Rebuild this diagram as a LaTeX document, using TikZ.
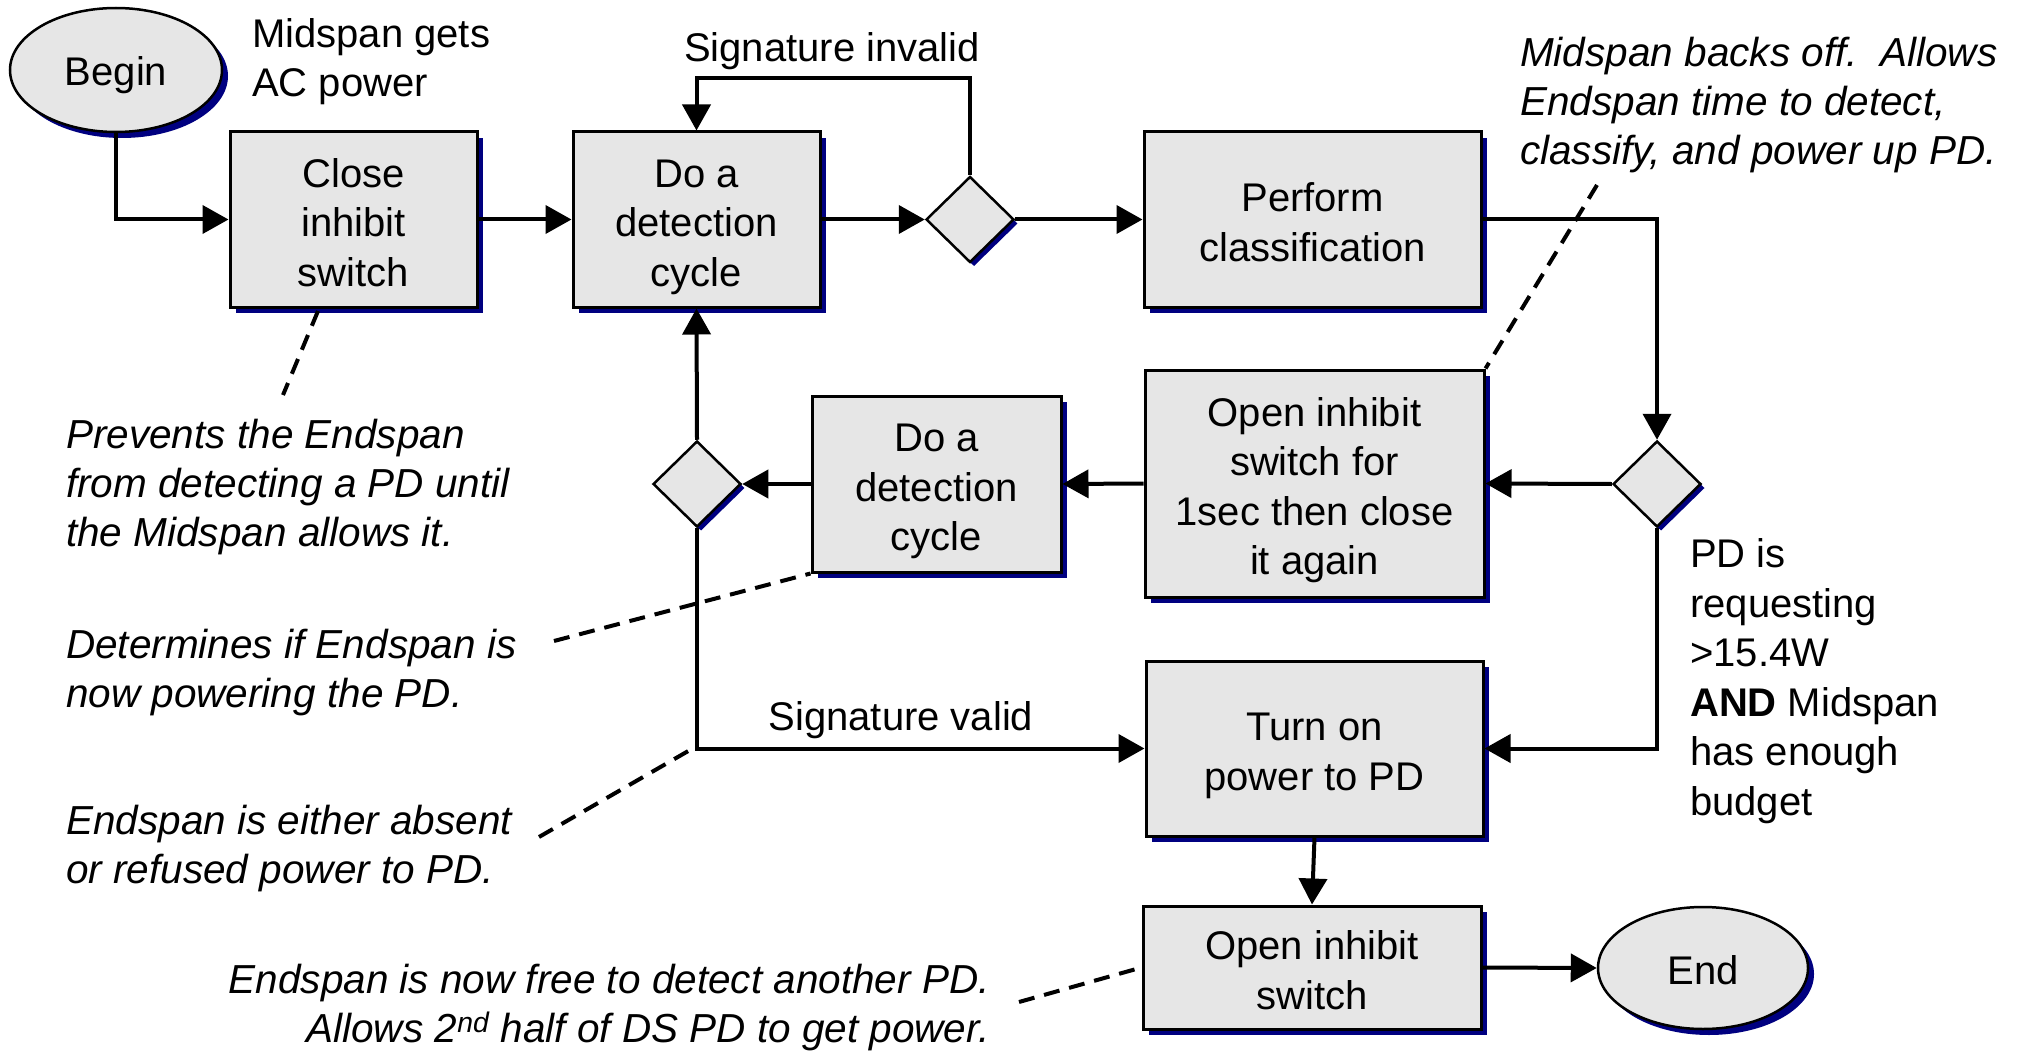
\documentclass[tikz,border=0pt]{standalone}
\usepackage{fontspec}
\setmainfont{Liberation Sans}
\usetikzlibrary{arrows.meta,shapes.geometric,shadows}
\definecolor{boxfill}{RGB}{230,230,230}
\definecolor{shadenavy}{RGB}{0,0,128}
\frenchspacing
\begin{document}
\begin{tikzpicture}[x=1pt,y=-1pt,
  every node/.style={font=\fontsize{40}{49.5}\selectfont},
  boxshadow/.style={general shadow={fill=shadenavy,draw=none,shadow xshift=6pt,shadow yshift=-6pt}},
  proc/.style={rectangle,draw=black,line width=3pt,fill=boxfill,inner sep=0pt,align=center,text depth=6pt,boxshadow},
  lines2/.style={text height=89.5pt},
  lines3/.style={text height=139pt},
  lines4/.style={text height=188.5pt},
  term/.style={ellipse,draw=black,line width=2.5pt,fill=boxfill,inner sep=0pt,text height=32pt,text depth=0pt,boxshadow},
  decision/.style={diamond,draw=black,line width=2.5pt,fill=boxfill,inner sep=0pt,
    minimum width=88pt,minimum height=86pt,general shadow={fill=shadenavy,draw=none,shadow xshift=4pt,shadow yshift=-4pt}},
  conn/.style={line width=4pt,-{Triangle[length=26pt,width=28pt]}},
  note/.style={line width=4pt,dash pattern=on 16pt off 10pt},
  label/.style={inner sep=0pt,align=left},
  remark/.style={inner sep=0pt,align=left,font=\fontsize{40.5}{49}\selectfont\itshape}]
\useasboundingbox (0,0) rectangle (2021,1051);

% terminals
\node[term,minimum width=212pt,minimum height=124pt] (begin) at (116,70) {Begin};
\node[term,minimum width=210pt,minimum height=122pt] (end) at (1703,968) {End};

% process boxes
\node[proc,lines3,minimum width=247pt,minimum height=175pt] (close) at (353.5,219.5) {Close\\inhibit\\switch};
\node[proc,lines3,minimum width=247pt,minimum height=175pt] (det1) at (696.5,219.5) {Do a\\detection\\cycle};
\node[proc,lines2,minimum width=337pt,minimum height=175pt] (class) at (1312.5,219.5) {Perform\\classification};
\node[proc,lines4,minimum width=339pt,minimum height=227pt] (open1) at (1314.5,483.5) {Open inhibit\\switch for\\1sec then close\\it again};
\node[proc,lines3,minimum width=249pt,minimum height=176pt] (det2) at (936.5,484) {Do a\\detection\\cycle};
\node[proc,lines2,minimum width=337pt,minimum height=175pt] (turn) at (1314.5,748.5) {Turn on\\power to PD};
\node[proc,lines2,minimum width=338pt,minimum height=123pt] (open2) at (1312,967.5) {Open inhibit\\switch};

% decisions
\node[decision] (dec1) at (970,219.5) {};
\node[decision] (dec2) at (697,484) {};
\node[decision] (dec3) at (1657,484) {};

% flow connectors
\coordinate (invtop) at (0,78);
\draw[conn] (begin.south) |- (close.west);
\draw[conn] (close.east) -- (det1.west);
\draw[conn] (det1.east) -- (dec1.west);
\draw[conn] (dec1.north) -- (dec1.north |- invtop) -| (det1.north);
\draw[conn] (dec1.east) -- (class.west);
\draw[conn] (class.east) -| (dec3.north);
\draw[conn] (dec3.west) -- (open1.east);
\draw[conn] (open1.west) -- (det2.east);
\draw[conn] (det2.west) -- (dec2.east);
\draw[conn] (dec2.north) -- (det1.south);
\draw[conn] (dec2.south) |- (turn.west);
\draw[conn] (dec3.south) |- (turn.east);
\draw[conn] (turn.south) -- (open2.north);
\draw[conn] (open2.east) -- (end.west);

% labels (base anchor = baseline of the last line)
\node[label,anchor=base west] (acpower) at (252,97) {Midspan gets\\AC power};
\node[label,anchor=base] (siginv) at (832,62) {Signature invalid};
\node[label,anchor=base] (sigval) at (901,730) {Signature valid};
\node[label,anchor=base west] (request) at (1690,815) {PD is\\requesting\\>15.4W\\\textbf{AND} Midspan\\has enough\\budget};

% remarks
\node[remark,anchor=base west] (rbackoff) at (1520,165) {Midspan backs off.~~Allows\\Endspan time to detect,\\classify, and power up PD.};
\node[remark,anchor=base west] (rprevent) at (66,546) {Prevents the Endspan\\from detecting a PD until\\the Midspan allows it.};
\node[remark,anchor=base west] (rdetermine) at (66,707) {Determines if Endspan is\\now powering the PD.};
\node[remark,anchor=base west] (rabsent) at (66,883) {Endspan is either absent\\or refused power to PD.};
\node[remark,anchor=base east,align=right] (rfree) at (990,1042) {Endspan is now free to detect another PD.\\Allows 2\textsuperscript{nd} half of DS PD to get power.};

% remark leaders
\coordinate (lp1) at (318,311);
\coordinate (lp2) at (283,395);
\coordinate (ld1) at (554,641);
\coordinate (la1) at (539,837);
\coordinate (la2) at (690,750);
\coordinate (lb1) at (1597,185);
\coordinate (lf1) at (1019,1002);
\draw[note] (lp1) -- (lp2);
\draw[note] (ld1) -- (det2.south west);
\draw[note] (la1) -- (la2);
\draw[note] (lb1) -- (open1.north east);
\draw[note] (lf1) -- (open2.west);
\end{tikzpicture}
\end{document}
